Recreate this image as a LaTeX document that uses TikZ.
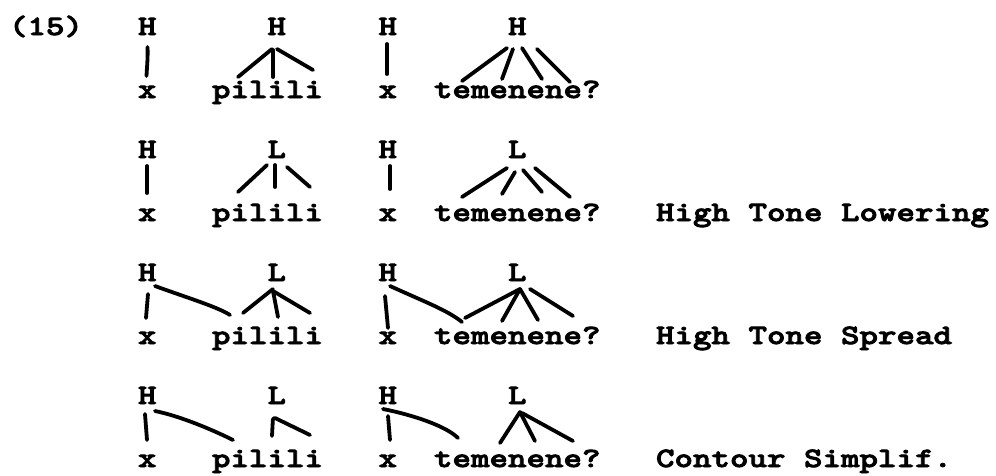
\documentclass[tikz,border=0pt]{standalone}
\usepackage{fontspec}
\newfontfamily\tw{lmmonolt10-bold}[Extension=.otf,FakeStretch=1.2585,FakeBold=3]
\begin{document}
\begin{tikzpicture}[x=1pt,y=-1pt,
  txt/.style={font=\fontsize{28}{33}\tw, inner sep=0pt, outer sep=0pt, anchor=base west},
  assoc/.style={line width=3.8pt, line cap=round, line join=round}]
\useasboundingbox (0,0) rectangle (996,475);
% ---------- row 1 ----------
\node[txt] (n15) at (9,35) {(15)};
\node[txt] (hA1) at (138,35) {H};
\node[txt] (t2_1) at (267.5,35) {H};
\node[txt] (hB1) at (378.5,35) {H};
\node[txt] (t4_1) at (508,35) {H};
\node[txt] (xA1) at (138,98) {x};
\node[txt] (w1_1) at (212,98) {pilili};
\node[txt] (xB1) at (378.5,98) {x};
\node[txt] (w2_1) at (434,98) {temenene?};
\draw[assoc] ([shift={(9.5,12)}]hA1.base west) .. controls +(0.5,10) and +(0.5,-10) .. ([shift={(8.5,-22)}]xA1.base west);
\draw[assoc] ([shift={(4.5,14)}]t2_1.base west) -- ([shift={(26,-21)}]w1_1.base west);
\draw[assoc] ([shift={(5.5,15)}]t2_1.base west) -- ([shift={(61,-21)}]w1_1.base west);
\draw[assoc] ([shift={(9.5,14)}]t2_1.base west) -- ([shift={(101,-28)}]w1_1.base west);
\draw[assoc] ([shift={(8.5,9)}]hB1.base west) -- ([shift={(8.5,-24)}]xB1.base west);
\draw[assoc] ([shift={(-1,13)}]t4_1.base west) -- ([shift={(28,-17)}]w2_1.base west);
\draw[assoc] ([shift={(5,14)}]t4_1.base west) -- ([shift={(68,-19)}]w2_1.base west);
\draw[assoc] ([shift={(14,13)}]t4_1.base west) -- ([shift={(108,-19)}]w2_1.base west);
\draw[assoc] ([shift={(29,14)}]t4_1.base west) -- ([shift={(136,-16)}]w2_1.base west);
% ---------- row 2 ----------
\node[txt] (hA2) at (138,158) {H};
\node[txt] (t2_2) at (267.5,158) {L};
\node[txt] (hB2) at (378.5,158) {H};
\node[txt] (t4_2) at (508,158) {L};
\node[txt] (xA2) at (138,221) {x};
\node[txt] (w1_2) at (212,221) {pilili};
\node[txt] (xB2) at (378.5,221) {x};
\node[txt] (w2_2) at (434,221) {temenene?};
\node[txt] (lab2) at (656,221) {High Tone Lowering};
\draw[assoc] ([shift={(9,8)}]hA2.base west) -- ([shift={(9,-28)}]xA2.base west);
\draw[assoc] ([shift={(-0.5,7)}]t2_2.base west) -- ([shift={(26,-29)}]w1_2.base west);
\draw[assoc] ([shift={(7.5,7)}]t2_2.base west) -- ([shift={(63,-34)}]w1_2.base west);
\draw[assoc] ([shift={(19.5,9)}]t2_2.base west) -- ([shift={(98,-34)}]w1_2.base west);
\draw[assoc] ([shift={(11.5,8)}]hB2.base west) -- ([shift={(11.5,-32)}]xB2.base west);
\draw[assoc] ([shift={(-1,10)}]t4_2.base west) -- ([shift={(28,-24)}]w2_2.base west);
\draw[assoc] ([shift={(7,14)}]t4_2.base west) -- ([shift={(68,-27)}]w2_2.base west);
\draw[assoc] ([shift={(15,12)}]t4_2.base west) -- ([shift={(108,-29)}]w2_2.base west);
\draw[assoc] ([shift={(27,10)}]t4_2.base west) -- ([shift={(136,-24)}]w2_2.base west);
% ---------- row 3 ----------
\node[txt] (hA3) at (138,281) {H};
\node[txt] (t2_3) at (267.5,281) {L};
\node[txt] (hB3) at (378.5,281) {H};
\node[txt] (t4_3) at (508,281) {L};
\node[txt] (xA3) at (138,344) {x};
\node[txt] (w1_3) at (212,344) {pilili};
\node[txt] (xB3) at (378.5,344) {x};
\node[txt] (w2_3) at (434,344) {temenene?};
\node[txt] (lab3) at (656,344) {High Tone Spread};
\draw[assoc] ([shift={(10,13)}]hA3.base west) -- ([shift={(8,-26)}]xA3.base west);
\draw[assoc] ([shift={(17,5)}]hA3.base west) .. controls +(30,11) and +(-12,-8) .. ([shift={(18,-29)}]w1_3.base west);
\draw[assoc] ([shift={(5.5,8)}]t2_3.base west) -- ([shift={(31,-31)}]w1_3.base west);
\draw[assoc] ([shift={(5.5,10)}]t2_3.base west) -- ([shift={(66,-27)}]w1_3.base west);
\draw[assoc] ([shift={(5.5,10)}]t2_3.base west) -- ([shift={(98,-31)}]w1_3.base west);
\draw[assoc] ([shift={(6.5,15)}]hB3.base west) -- ([shift={(9.5,-16)}]xB3.base west);
\draw[assoc] ([shift={(11.5,5)}]hB3.base west) .. controls +(35,16) and +(-15,-12) .. ([shift={(28,-22)}]w2_3.base west);
\draw[assoc] ([shift={(12,8)}]t4_3.base west) -- ([shift={(31,-26)}]w2_3.base west);
\draw[assoc] ([shift={(12,8)}]t4_3.base west) -- ([shift={(68,-23)}]w2_3.base west);
\draw[assoc] ([shift={(12,8)}]t4_3.base west) -- ([shift={(104,-24)}]w2_3.base west);
\draw[assoc] ([shift={(22,8)}]t4_3.base west) -- ([shift={(139,-28)}]w2_3.base west);
% ---------- row 4 ----------
\node[txt] (hA4) at (138,404) {H};
\node[txt] (t2_4) at (267.5,404) {L};
\node[txt] (hB4) at (378.5,404) {H};
\node[txt] (t4_4) at (508,404) {L};
\node[txt] (xA4) at (138,467) {x};
\node[txt] (w1_4) at (212,467) {pilili};
\node[txt] (xB4) at (378.5,467) {x};
\node[txt] (w2_4) at (434,467) {temenene?};
\node[txt] (lab4) at (656,467) {Contour Simplif.};
\draw[assoc] ([shift={(7,10)}]hA4.base west) -- ([shift={(9,-27)}]xA4.base west);
\draw[assoc] ([shift={(17,7)}]hA4.base west) .. controls +(25,5) and +(-20,-10) .. ([shift={(21,-27)}]w1_4.base west);
\draw[assoc, rounded corners=3pt] ([shift={(60,-31)}]w1_4.base west) -- ([shift={(5.5,13)}]t2_4.base west) -- ([shift={(98,-32)}]w1_4.base west);
\draw[assoc] ([shift={(9.5,12)}]hB4.base west) -- ([shift={(11.5,-27)}]xB4.base west);
\draw[assoc] ([shift={(4.5,5)}]hB4.base west) .. controls +(30,6) and +(-12,-12) .. ([shift={(24,-29)}]w2_4.base west);
\draw[assoc] ([shift={(12,8)}]t4_4.base west) -- ([shift={(66,-24)}]w2_4.base west);
\draw[assoc] ([shift={(12,8)}]t4_4.base west) -- ([shift={(101,-26)}]w2_4.base west);
\draw[assoc] ([shift={(14,9)}]t4_4.base west) -- ([shift={(139,-26)}]w2_4.base west);
\end{tikzpicture}
\end{document}
